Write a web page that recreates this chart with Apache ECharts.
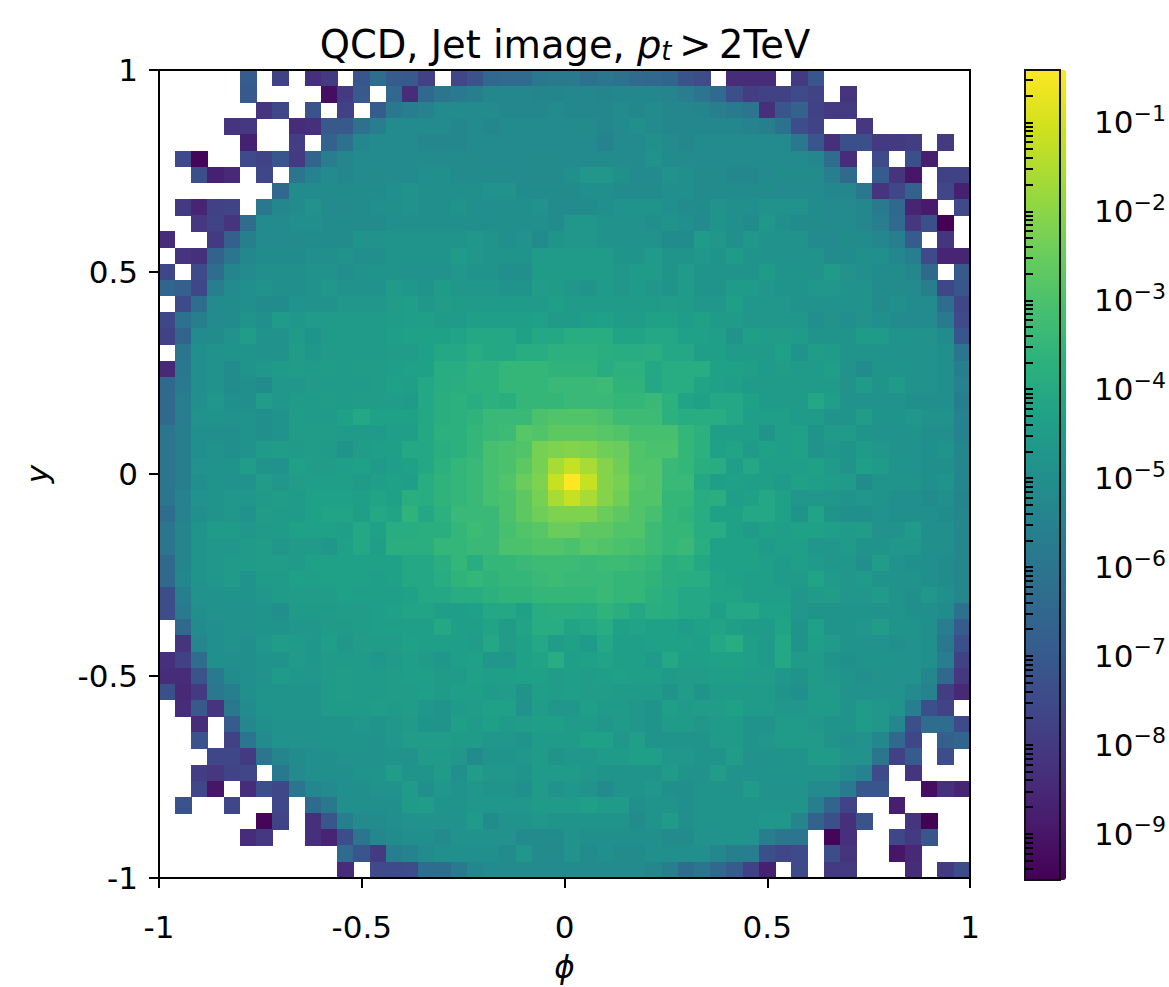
<!DOCTYPE html>
<html><head><meta charset="utf-8">
<style>html,body{margin:0;padding:0;background:#fff}#c{width:1169px;height:987px}#c svg path{shape-rendering:crispEdges}</style>
<script src="https://cdn.jsdelivr.net/npm/echarts@6/dist/echarts.min.js"></script>
</head><body><div id="c"></div>
<script>
// Cell values: v means 10^(-v/10); 0 is an empty (white) cell. Row 0 is the top row.
const row00=[0,0,0,0,0,69,0,78,0,83, 80,0,71,63,69,70,78,0,76,72, 65,64,64,59,58,58,61,60,61,64, 65,66,72,74,0,84,84,84,0,80, 71,0,0,0,0,0,0,0,0,0];
const row01=[0,0,0,0,0,70,0,0,0,0, 92,80,70,0,65,84,65,60,58,56, 53,53,53,54,54,53,53,54,53,53, 53,54,57,60,64,73,79,78,78,75, 77,0,82,0,0,0,0,0,0,0];
const row02=[0,0,0,0,0,0,82,76,0,72, 0,78,0,69,59,57,55,52,52,52, 52,53,53,53,52,53,53,53,52,53, 52,53,53,54,56,58,60,83,71,67, 78,80,80,0,0,0,0,0,0,0];
const row03=[0,0,0,0,82,81,0,0,84,83, 70,70,61,57,52,52,52,52,53,52, 53,52,52,52,52,52,51,53,52,50, 52,53,53,53,53,53,55,56,61,74, 77,0,0,81,0,0,0,0,0,0];
const row04=[0,0,0,0,0,87,0,0,79,0, 67,61,53,52,52,52,53,53,53,52, 52,52,52,52,52,52,52,55,52,52, 50,52,53,52,52,52,52,52,52,59, 71,83,73,73,80,80,79,0,80,0];
const row05=[0,75,94,0,0,75,77,71,80,66, 57,53,52,52,52,52,52,52,51,52, 52,52,52,51,52,52,52,51,52,52, 49,51,52,52,52,52,52,52,52,52, 53,63,84,0,75,0,73,88,0,0];
const row06=[0,0,73,87,85,0,76,0,60,55, 52,53,52,51,52,52,50,50,51,51, 51,52,52,51,52,50,47,47,50,52, 52,49,50,51,51,53,53,52,51,51, 51,56,64,0,69,82,90,0,78,78];
const row07=[0,0,0,0,0,0,0,65,51,51, 51,51,51,51,50,49,50,50,50,50, 49,49,51,51,51,51,50,50,51,52, 51,50,50,51,51,51,51,51,52,52, 52,53,53,59,82,76,67,0,76,87];
const row08=[0,80,86,78,77,0,59,53,51,49, 52,51,51,50,50,49,50,50,48,50, 50,50,50,49,52,52,51,50,49,48, 48,50,51,51,49,50,50,49,49,49, 51,52,52,53,58,65,86,89,0,75];
const row09=[0,0,81,77,82,63,52,52,50,50, 51,51,51,51,50,50,50,50,50,50, 50,50,50,50,51,47,47,48,49,49, 50,48,50,52,48,50,51,47,50,51, 51,52,52,53,57,64,81,73,95,0];
const row10=[84,0,0,80,68,56,52,52,51,51, 51,51,48,49,48,48,48,48,48,47, 48,50,49,51,48,47,47,49,49,49, 49,51,51,46,47,50,47,49,49,49, 52,52,51,51,53,56,69,0,82,0];
const row11=[0,82,83,67,60,53,51,51,51,50, 50,49,50,50,48,48,48,48,46,47, 48,48,48,46,46,46,46,46,48,48, 46,48,48,47,48,46,48,49,49,49, 49,51,51,50,50,53,57,75,86,86];
const row12=[76,0,75,63,54,52,50,50,50,49, 49,50,49,48,48,49,49,49,47,48, 48,50,50,46,46,46,46,46,47,46, 46,48,46,48,48,48,48,46,48,48, 49,46,49,50,51,51,53,65,0,70];
const row13=[66,68,76,57,52,50,49,50,50,49, 47,49,49,49,46,47,48,46,47,47, 47,49,48,45,46,47,48,46,47,46, 47,48,46,48,48,46,46,47,48,48, 47,47,49,49,51,51,52,56,76,71];
const row14=[0,75,63,52,51,50,51,51,49,49, 49,47,47,47,45,44,47,45,46,46, 46,46,46,46,44,46,46,46,46,46, 46,45,46,47,47,44,47,47,47,49, 49,49,49,49,51,50,52,52,63,76];
const row15=[76,61,56,52,51,48,50,46,47,46, 46,46,46,46,45,44,44,46,46,44, 44,44,44,43,46,46,44,43,45,45, 43,43,45,43,46,46,47,47,47,47, 50,49,50,49,50,52,52,52,58,75];
const row16=[78,66,52,51,49,45,49,49,46,48, 46,46,46,46,44,43,43,43,42,41, 41,41,43,41,41,39,39,39,42,42, 41,41,43,43,44,48,44,45,45,46, 48,48,48,46,46,48,49,49,51,71];
const row17=[0,60,50,49,48,48,49,49,45,47, 46,46,46,46,45,45,43,41,41,39, 41,41,39,39,37,37,37,38,39,39, 38,41,41,44,44,46,46,46,43,48, 45,46,48,48,48,49,49,49,50,60];
const row18=[85,59,50,49,51,48,47,46,45,46, 45,46,45,45,44,43,43,39,39,37, 37,35,35,35,36,36,36,39,37,37, 41,39,39,39,43,43,44,46,45,46, 46,44,49,51,48,48,49,49,50,56];
const row19=[65,58,50,49,51,50,51,47,47,46, 46,46,46,45,43,44,41,39,38,37, 37,35,35,35,34,34,34,33,36,36, 41,39,39,42,43,44,46,46,46,46, 46,46,49,46,48,46,49,49,50,55];
const row20=[65,57,50,47,50,50,45,47,46,46, 45,46,45,45,45,46,41,38,37,39, 37,38,35,35,35,34,34,34,35,35, 34,37,42,43,41,41,43,46,46,46, 41,44,49,49,49,49,50,50,50,56];
const row21=[65,57,49,48,49,49,50,48,45,46, 46,43,41,43,43,43,41,38,37,36, 34,34,34,30,29,29,29,30,33,33, 33,37,39,39,39,41,44,44,44,46, 46,48,48,45,48,48,47,49,49,55];
const row22=[60,56,50,50,50,48,50,49,45,45, 45,46,46,46,44,44,41,37,37,35, 34,33,28,29,27,27,27,28,29,31, 31,31,35,37,44,44,44,48,44,43, 48,46,46,48,49,49,48,50,50,55];
const row23=[60,56,50,49,50,49,46,45,46,45, 46,48,45,44,44,41,41,38,37,35, 31,30,29,23,22,21,22,24,25,29, 30,30,35,37,43,42,46,43,44,43, 49,47,48,46,47,49,49,50,48,53];
const row24=[60,56,49,49,48,45,48,49,43,45, 45,44,43,46,44,43,41,37,35,34, 31,30,27,23,16,12,16,21,24,29, 29,34,35,38,39,44,41,44,44,44, 43,46,48,44,46,48,49,50,50,53];
const row25=[60,56,50,48,49,49,45,47,45,44, 44,44,46,44,43,44,39,36,35,34, 31,29,25,22,12,4,12,21,23,28, 29,34,34,41,44,43,44,44,46,43, 44,45,46,51,48,48,48,50,48,53];
const row26=[60,55,49,48,47,47,46,45,46,43, 43,43,44,42,43,38,39,36,35,34, 31,30,27,23,16,12,16,21,24,29, 29,35,35,39,38,44,43,41,43,47, 47,47,48,47,48,50,50,51,50,54];
const row27=[63,55,50,48,47,49,45,46,46,43, 42,42,44,41,42,36,41,37,34,34, 34,30,27,24,22,22,22,25,27,29, 31,35,36,39,43,43,41,41,43,48, 42,48,50,50,49,50,50,50,51,53];
const row28=[60,54,48,46,46,47,46,46,43,43, 43,44,41,43,39,39,38,38,35,33, 34,31,29,28,25,25,27,27,29,29, 33,35,35,39,39,43,46,43,44,43, 43,44,46,45,49,49,46,50,50,53];
const row29=[60,54,48,47,47,46,45,47,46,46, 47,43,41,44,38,38,38,35,35,34, 34,30,30,29,29,30,28,29,30,31, 33,35,34,38,43,43,43,46,44,44, 47,47,46,48,48,47,47,50,50,53];
const row30=[65,54,48,47,46,46,45,45,46,43, 43,43,43,43,43,41,41,38,35,39, 35,35,34,33,33,33,34,33,33,34, 35,38,37,41,43,43,43,44,46,44, 46,47,47,50,45,49,50,50,51,53];
const row31=[65,53,48,47,46,49,46,46,43,44, 43,43,43,44,43,41,41,39,36,35, 36,35,35,34,33,34,34,34,35,35, 36,38,39,39,42,43,44,44,46,46, 42,46,47,46,48,49,48,50,51,53];
const row32=[74,56,49,49,48,48,47,46,45,45, 45,43,44,44,44,43,41,41,39,39, 37,36,36,35,35,35,35,34,35,35, 37,39,41,41,42,42,44,44,44,47, 46,45,47,47,46,48,50,47,50,53];
const row33=[74,58,50,49,49,49,48,50,46,46, 46,45,45,44,43,42,42,44,44,43, 41,41,43,39,38,38,39,36,38,41, 38,39,41,41,44,41,41,43,43,47, 48,48,48,48,49,48,50,50,51,61];
const row34=[0,65,51,50,49,49,48,48,47,47, 46,46,45,44,44,44,44,41,44,44, 42,45,42,39,39,42,41,39,43,42, 43,43,45,43,42,44,46,46,42,48, 43,48,48,47,45,48,48,50,57,69];
const row35=[0,82,53,50,49,50,47,45,46,47, 44,47,45,45,45,43,44,44,44,45, 41,45,43,41,45,43,46,41,44,44, 43,43,43,44,41,39,44,46,41,48, 44,46,48,49,49,50,49,50,59,73];
const row36=[83,78,63,50,50,50,48,48,46,47, 46,46,46,47,46,44,46,47,44,43, 47,47,43,42,39,44,43,42,44,44, 46,41,44,44,43,43,44,46,41,46, 46,48,50,48,48,49,49,50,57,78];
const row37=[84,84,72,58,51,50,49,46,47,47, 46,45,46,46,45,44,44,46,46,43, 44,44,43,43,45,44,45,44,43,44, 44,46,45,45,44,44,45,45,47,48, 46,47,48,50,49,49,49,53,65,81];
const row38=[73,85,80,59,56,50,48,48,48,48, 46,45,46,46,45,45,44,46,44,44, 46,45,48,44,45,44,45,45,46,46, 46,48,45,48,46,46,46,46,48,50, 46,46,49,49,49,49,52,55,79,85];
const row39=[0,84,70,82,59,51,48,48,48,48, 46,46,46,45,46,45,47,48,46,45, 43,43,49,45,47,47,44,46,46,47, 48,44,46,45,45,43,46,46,47,47, 46,46,48,46,47,48,57,73,77,0];
const row40=[0,0,84,0,69,53,50,49,49,49, 48,48,47,48,47,46,48,48,44,46, 44,46,45,44,44,46,46,47,46,47, 48,46,46,47,46,46,48,49,46,46, 47,48,48,46,47,53,73,63,63,75];
const row41=[0,0,72,0,78,60,52,49,49,49, 48,48,48,49,47,45,45,45,46,46, 47,47,48,46,46,46,43,43,47,44, 48,48,48,48,46,46,48,47,46,46, 46,49,50,49,53,65,76,0,68,66];
const row42=[0,0,0,76,76,80,60,54,51,50, 50,49,49,49,48,49,46,46,47,52, 48,48,47,46,48,47,47,46,46,44, 44,47,47,48,48,45,49,49,48,48, 46,46,49,49,60,78,69,0,74,0];
const row43=[0,0,79,81,77,76,0,59,52,50, 50,50,48,48,45,48,48,46,50,45, 47,47,48,46,46,46,47,48,48,48, 48,46,48,49,45,49,49,48,48,48, 48,48,51,55,75,0,82,0,0,0];
const row44=[0,0,76,90,0,84,73,76,60,53, 52,50,50,49,49,46,50,47,49,47, 48,48,50,46,49,47,49,52,48,48, 47,50,50,48,48,49,46,49,49,49, 52,52,58,71,71,0,0,92,83,86];
const row45=[0,72,0,0,76,0,0,76,0,64, 59,50,50,50,50,46,45,48,48,47, 47,47,47,46,46,46,44,46,46,50, 48,48,50,48,48,48,48,48,48,48, 56,66,77,0,0,88,0,0,0,0];
const row46=[0,0,0,0,0,0,94,77,0,83, 71,56,52,51,50,49,49,49,49,46, 51,49,48,47,48,48,48,48,48,51, 48,46,50,48,48,48,48,47,47,54, 67,73,83,72,0,0,82,95,0,0];
const row47=[0,0,0,0,0,84,81,0,0,83, 86,74,60,53,51,50,50,52,49,49, 49,49,52,51,51,49,50,50,50,50, 50,52,51,49,49,48,49,56,60,60, 0,94,83,0,0,76,80,71,0,0];
const row48=[0,0,0,0,0,0,0,0,0,0, 0,64,71,80,57,55,52,50,50,50, 50,51,47,51,52,49,51,50,51,51, 50,50,50,50,53,56,57,73,76,75, 0,74,82,0,0,90,85,0,0,0];
const row49=[0,0,0,0,0,0,0,0,0,0, 0,84,0,75,75,74,63,63,58,53, 52,52,52,52,52,52,52,52,52,52, 53,56,63,60,65,69,78,87,0,75, 0,80,80,0,0,0,84,0,80,74];
const rows=[row00,row01,row02,row03,row04,row05,row06,row07,row08,row09,row10,row11,row12,row13,row14,row15,row16,row17,row18,row19,row20,row21,row22,row23,row24,row25,row26,row27,row28,row29,row30,row31,row32,row33,row34,row35,row36,row37,row38,row39,row40,row41,row42,row43,row44,row45,row46,row47,row48,row49];

const colorbarDecades=[-1,-2,-3,-4,-5,-6,-7,-8,-9];
const colorbarMultiples=[1,2,3,4,5,6,7,8,9];
const colorMin=-9.52, colorMax=-0.41;
const viridis=['#440154','#481B6D','#46337E','#3F4889','#365C8D','#2E6E8E','#277F8E','#21908C','#1FA187','#2DB27D','#4AC16D','#71CF57','#A0DA39','#D0E11C','#FDE725'];

const cells=[];
rows.forEach((r,y)=>r.forEach((v,x)=>{if(v>0)cells.push([x,y,-v/10]);}));
const idx=Array.from({length:50},(_,i)=>i);
const minorTicks=[];
colorbarDecades.concat([0,-10]).forEach(d=>colorbarMultiples.forEach(m=>{
  const t=d+Math.log10(m); if(t>=colorMin&&t<=colorMax)minorTicks.push(t);}));

const F='"DejaVu Sans"';
const line={show:true,onZero:false,lineStyle:{color:'#000',width:2.2}};
const chart=echarts.init(document.getElementById('c'),null,{renderer:'svg'});
chart.setOption({
  animation:false,
  backgroundColor:'#fff',
  title:{
    left:560,top:19,textAlign:'center',
    text:'QCD, Jet image, {i|p}{sub|t}{n|\u2009>\u20092TeV}',
    textStyle:{fontFamily:F,fontSize:38.4,fontWeight:'normal',color:'#000',
      rich:{i:{fontFamily:F,fontStyle:'italic',fontSize:38.4,color:'#000'},
            sub:{fontFamily:F,fontStyle:'italic',fontSize:26,color:'#000',verticalAlign:'bottom',padding:[14,0,0,0]},
            n:{fontFamily:F,fontSize:38.4,color:'#000'}}}
  },
  grid:[
    {left:159,top:70,width:811,height:811},
    {left:1025,top:70,width:41,height:810,show:true,z:6,backgroundColor:'transparent',borderColor:'#111',borderWidth:2.2}
  ],
  xAxis:[
    {type:'category',gridIndex:0,data:idx,show:false},
    {type:'value',gridIndex:0,position:'bottom',min:-1,max:1,interval:0.5,z:5,
      name:'ϕ',nameLocation:'middle',nameGap:73,
      nameTextStyle:{fontFamily:F,fontStyle:'italic',fontSize:31,color:'#000'},
      axisLine:line,axisTick:{show:true,length:10,lineStyle:{color:'#000',width:2.2}},
      axisLabel:{fontFamily:F,fontSize:31,color:'#000',margin:33,
        formatter:v=>String(v),showMinLabel:true,showMaxLabel:true},splitLine:{show:false}},
    {type:'value',gridIndex:0,position:'top',min:-1,max:1,interval:0.5,z:5,
      axisLine:line,axisTick:{show:false},axisLabel:{show:false},splitLine:{show:false}},
    {type:'value',gridIndex:1,min:0,max:1,show:false}
  ],
  yAxis:[
    {type:'category',gridIndex:0,data:idx,inverse:true,show:false},
    {type:'value',gridIndex:0,position:'left',min:-1,max:1,interval:0.5,z:5,
      name:'y',nameLocation:'middle',nameGap:107,
      nameTextStyle:{fontFamily:F,fontStyle:'italic',fontSize:31,color:'#000'},
      axisLine:line,axisTick:{show:true,length:10,lineStyle:{color:'#000',width:2.2}},
      axisLabel:{fontFamily:F,fontSize:31,color:'#000',margin:21,
        formatter:v=>String(v),showMinLabel:true,showMaxLabel:true},splitLine:{show:false}},
    {type:'value',gridIndex:0,position:'right',min:-1,max:1,interval:0.5,z:5,
      axisLine:line,axisTick:{show:false},axisLabel:{show:false},splitLine:{show:false}},
    {type:'value',gridIndex:1,position:'right',min:colorMin,max:colorMax,z:7,
      axisLine:{show:false},
      axisTick:{show:true,length:8,customValues:minorTicks,lineStyle:{color:'#000',width:2}},
      axisLabel:{show:true,margin:34,customValues:colorbarDecades,color:'#000',
        formatter:v=>'{b|10}{s|−'+Math.abs(Math.round(v))+'}',
        rich:{b:{fontFamily:F,fontSize:31,color:'#000'},
              s:{fontFamily:F,fontSize:22,color:'#000',verticalAlign:'top',padding:[0,0,18,0]}}},
      splitLine:{show:false}}
  ],
  visualMap:{type:'continuous',min:colorMin,max:colorMax,dimension:2,seriesIndex:0,
    left:1025,top:70,itemWidth:41,itemHeight:810,calculable:false,realtime:false,hoverLink:false,
    z:1,inRange:{color:viridis},text:null,padding:0},
  series:[{type:'heatmap',xAxisIndex:0,yAxisIndex:0,data:cells,progressive:0,
    itemStyle:{borderWidth:0},emphasis:{disabled:true}}]
});
</script></body></html>
